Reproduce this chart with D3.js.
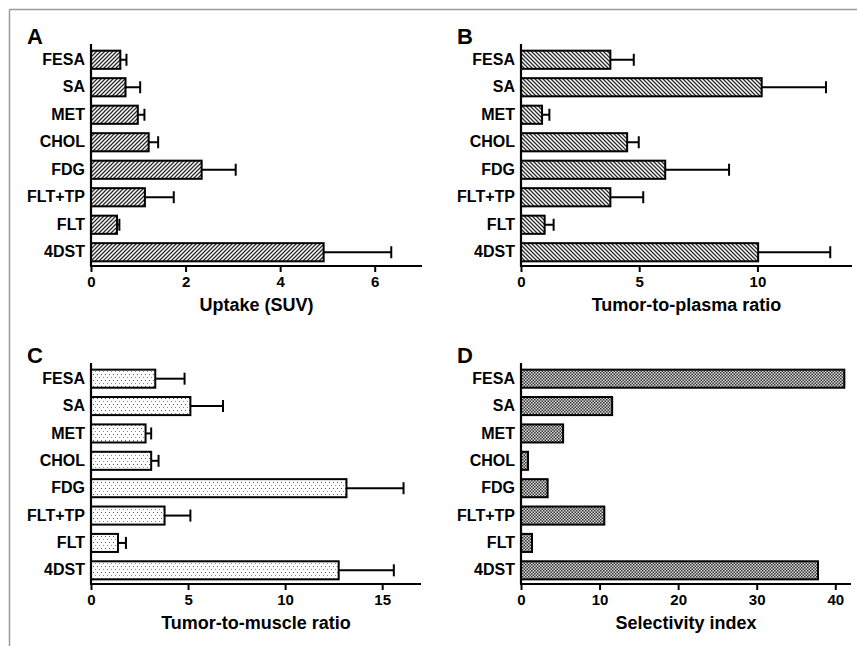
<!DOCTYPE html>
<html>
<head>
<meta charset="utf-8">
<script src="https://cdn.jsdelivr.net/npm/d3@7"></script>
<style>
  body { margin: 0; background: #fff; }
  svg { display: block; font-family: "Liberation Sans", Arial, sans-serif; }
</style>
</head>
<body>
<svg id="chart" width="857" height="646"></svg>
<script>
// categories (top to bottom)
const categories = ["FESA", "SA", "MET", "CHOL", "FDG", "FLT+TP", "FLT", "4DST"];

// A: uptake (SUV), mean and SD
const uptakeMean = [0.62, 0.73, 0.99, 1.22, 2.34, 1.14, 0.55, 4.92];
const uptakeSD   = [0.13, 0.31, 0.14, 0.20, 0.72, 0.61, 0.05, 1.43];
// B: tumor-to-plasma
const plasmaMean = [3.78, 10.18, 0.89, 4.49, 6.10, 3.78, 1.00, 10.03];
const plasmaSD   = [0.99, 2.72, 0.31, 0.49, 2.70, 1.39, 0.38, 3.05];
// C: tumor-to-muscle
const muscleMean = [3.31, 5.12, 2.81, 3.10, 13.16, 3.79, 1.39, 12.76];
const muscleSD   = [1.51, 1.68, 0.29, 0.38, 2.94, 1.33, 0.41, 2.84];
// D: selectivity index (no error bars)
const selectivity = [41.15, 11.6, 5.36, 0.89, 3.39, 10.6, 1.4, 37.8];

const ticksA = [0, 2, 4, 6];
const ticksB = [0, 5, 10];
const ticksC = [0, 5, 10, 15];
const ticksD = [0, 10, 20, 30, 40];

const svg = d3.select("#chart");

// frame lines (top and left)
svg.append("line").attr("x1", 9.5).attr("x2", 857).attr("y1", 9.5).attr("y2", 9.5)
  .attr("stroke", "#9a9a9a").attr("stroke-width", 1.5);
svg.append("line").attr("x1", 9.5).attr("x2", 9.5).attr("y1", 9.5).attr("y2", 646)
  .attr("stroke", "#9a9a9a").attr("stroke-width", 1.5);

// fill patterns
const defs = svg.append("defs");

const pA = defs.append("pattern").attr("id", "hatchA")
  .attr("patternUnits", "userSpaceOnUse").attr("width", 4).attr("height", 4);
pA.append("rect").attr("width", 4).attr("height", 4).attr("fill", "#fff");
pA.append("path").attr("d", "M-1,1 l2,-2 M0,4 l4,-4 M3,5 l2,-2")
  .attr("stroke", "#2a2a2a").attr("stroke-width", 1.3);

const pB = defs.append("pattern").attr("id", "hatchB")
  .attr("patternUnits", "userSpaceOnUse").attr("width", 4).attr("height", 4);
pB.append("rect").attr("width", 4).attr("height", 4).attr("fill", "#fff");
pB.append("path").attr("d", "M-1,3 l2,2 M0,0 l4,4 M3,-1 l2,2")
  .attr("stroke", "#2a2a2a").attr("stroke-width", 1.3);

const pC = defs.append("pattern").attr("id", "dotsC")
  .attr("patternUnits", "userSpaceOnUse").attr("width", 4).attr("height", 6);
pC.append("rect").attr("width", 4).attr("height", 6).attr("fill", "#fff");
pC.append("rect").attr("x", 1).attr("y", 2).attr("width", 1).attr("height", 1).attr("fill", "#555");
pC.append("rect").attr("x", 3).attr("y", 5).attr("width", 1).attr("height", 1).attr("fill", "#888");

const pD = defs.append("pattern").attr("id", "checkD")
  .attr("patternUnits", "userSpaceOnUse").attr("width", 3).attr("height", 3);
pD.append("rect").attr("width", 3).attr("height", 3).attr("fill", "#dcdcdc");
pD.append("rect").attr("x", 0).attr("y", 0).attr("width", 1.5).attr("height", 1.5).attr("fill", "#333");
pD.append("rect").attr("x", 1.5).attr("y", 1.5).attr("width", 1.5).attr("height", 1.5).attr("fill", "#333");

function panel(opt) {
  const g = svg.append("g");
  const x = d3.scaleLinear().domain([0, opt.max]).range([opt.x0, opt.x1]);
  const y = d3.scaleBand().domain(categories).range([opt.y0, opt.y1]).paddingInner(0.34).paddingOuter(0.17);

  // bars
  g.selectAll("rect.bar")
    .data(categories)
    .enter().append("rect")
    .attr("class", "bar")
    .attr("x", x(0))
    .attr("y", d => y(d))
    .attr("width", (d, i) => x(opt.mean[i]) - x(0))
    .attr("height", y.bandwidth())
    .attr("fill", `url(#${opt.fill})`)
    .attr("stroke", "#000")
    .attr("stroke-width", 2);

  // error bars (upper side only)
  if (opt.sd) {
    categories.forEach((c, i) => {
      const cy = y(c) + y.bandwidth() / 2;
      const xe = x(opt.mean[i] + opt.sd[i]);
      g.append("line").attr("x1", x(opt.mean[i])).attr("x2", xe)
        .attr("y1", cy).attr("y2", cy).attr("stroke", "#000").attr("stroke-width", 2);
      g.append("line").attr("x1", xe).attr("x2", xe)
        .attr("y1", cy - 6).attr("y2", cy + 6).attr("stroke", "#000").attr("stroke-width", 2);
    });
  }

  // category axis
  const ya = g.append("g").attr("transform", `translate(${opt.x0},0)`)
    .call(d3.axisLeft(y).tickSize(0).tickPadding(6));
  ya.select(".domain").attr("d", `M0,${opt.y0 - 2}V${opt.y1 + 1}`).attr("stroke-width", 2.2);
  ya.selectAll("text").attr("font-size", 16).attr("font-weight", "bold").attr("fill", "#000")
    .attr("font-family", "Liberation Sans, Arial, sans-serif");

  // value axis
  const xa = g.append("g").attr("transform", `translate(0,${opt.y1})`)
    .call(d3.axisBottom(x).tickValues(opt.ticks).tickSize(6).tickPadding(4).tickFormat(d3.format("d")));
  xa.select(".domain").attr("d", `M${opt.x0},0H${opt.x1}`).attr("stroke-width", 2.2);
  xa.selectAll(".tick line").attr("stroke-width", 2);
  xa.selectAll("text").attr("font-size", 15).attr("font-weight", "bold").attr("fill", "#000")
    .attr("font-family", "Liberation Sans, Arial, sans-serif");

  // axis title
  g.append("text")
    .attr("x", (opt.x0 + opt.x1) / 2)
    .attr("y", opt.y1 + 45)
    .attr("text-anchor", "middle")
    .attr("font-size", 18)
    .attr("font-weight", "bold")
    .text(opt.title);

  // panel letter
  g.append("text")
    .attr("x", opt.x0 - 64)
    .attr("y", opt.y0 - 2)
    .attr("font-size", 22)
    .attr("font-weight", "bold")
    .text(opt.letter);
}

panel({ letter: "A", x0: 91, x1: 422, y0: 46, y1: 266, max: 7, ticks: ticksA,
  mean: uptakeMean, sd: uptakeSD, fill: "hatchA", title: "Uptake (SUV)" });
panel({ letter: "B", x0: 521, x1: 852, y0: 46, y1: 266, max: 14, ticks: ticksB,
  mean: plasmaMean, sd: plasmaSD, fill: "hatchB", title: "Tumor-to-plasma ratio" });
panel({ letter: "C", x0: 91, x1: 421, y0: 365, y1: 584, max: 17, ticks: ticksC,
  mean: muscleMean, sd: muscleSD, fill: "dotsC", title: "Tumor-to-muscle ratio" });
panel({ letter: "D", x0: 521, x1: 851, y0: 365, y1: 584, max: 42, ticks: ticksD,
  mean: selectivity, sd: null, fill: "checkD", title: "Selectivity index" });
</script>
</body>
</html>
